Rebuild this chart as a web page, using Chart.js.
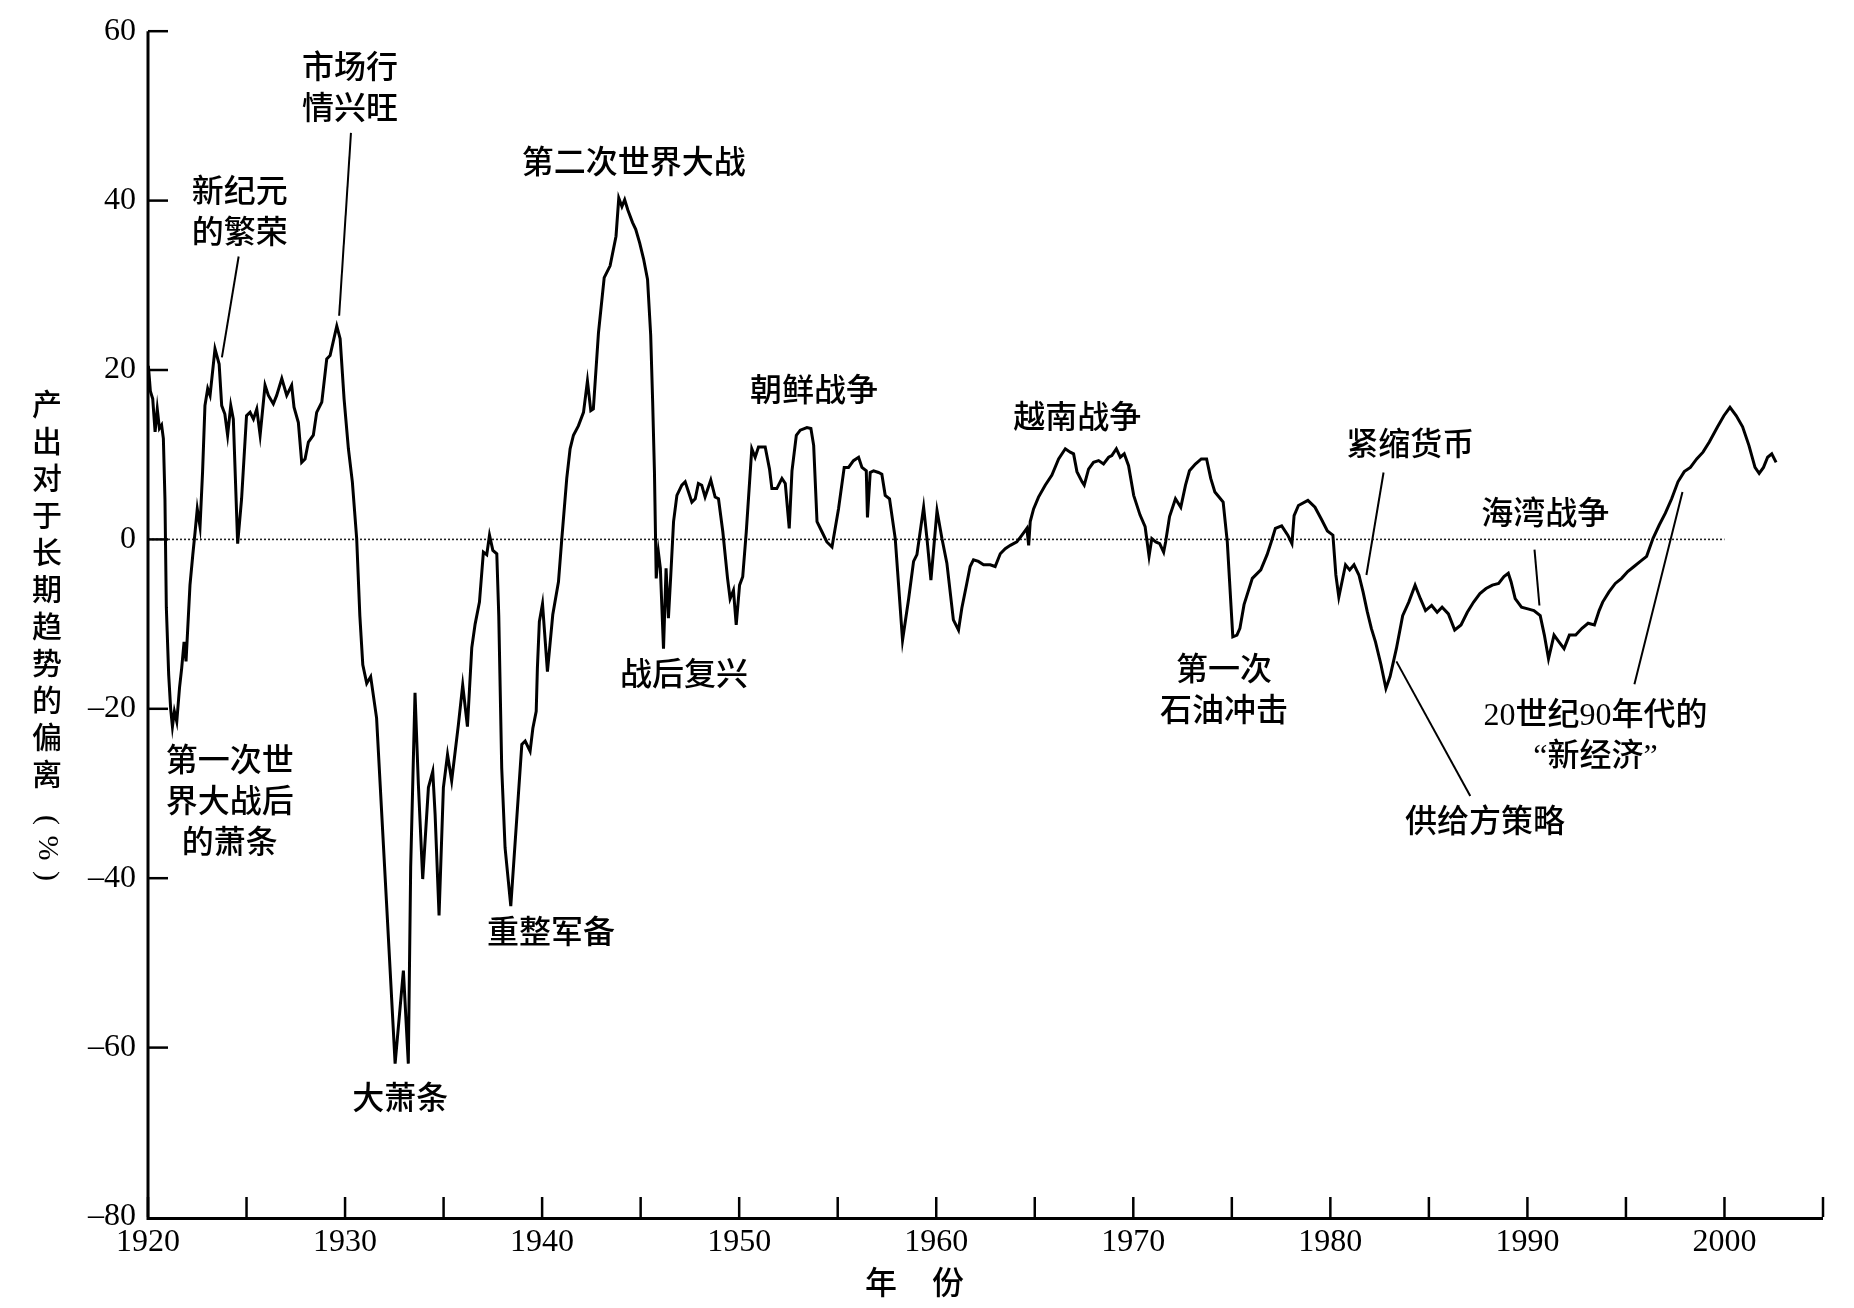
<!DOCTYPE html>
<html>
<head>
<meta charset="utf-8">
<script src="https://cdn.jsdelivr.net/npm/chart.js@4.4.1/dist/chart.umd.min.js"></script>
<style>
    html, body { margin: 0; padding: 0; background: #fff; }
    canvas { display: block; }
</style>
</head>
<body>
<canvas id="gapChart" width="1854" height="1308"></canvas>
<script>
// Years (fractional)
const years = [
    1920.02, 1920.12, 1920.24, 1920.36, 1920.47, 1920.58, 1920.69, 1920.78, 1920.86, 1920.93,
    1921.05, 1921.15, 1921.24, 1921.34, 1921.46, 1921.6, 1921.71, 1921.83, 1921.93, 1922.05,
    1922.13, 1922.27, 1922.39, 1922.5, 1922.64, 1922.77, 1922.89, 1923.03, 1923.15, 1923.4,
    1923.61, 1923.74, 1923.9, 1924.04, 1924.2, 1924.33, 1924.55, 1924.75, 1925.0, 1925.18,
    1925.35, 1925.52, 1925.69, 1925.94, 1926.11, 1926.36, 1926.53, 1926.79, 1927.04, 1927.29,
    1927.41, 1927.63, 1927.8, 1927.97, 1928.14, 1928.39, 1928.56, 1928.82, 1929.07, 1929.24,
    1929.58, 1929.75, 1929.95, 1930.17, 1930.37, 1930.59, 1930.75, 1930.9, 1931.1, 1931.3,
    1931.6, 1932.1, 1932.54, 1932.96, 1933.21, 1933.33, 1933.55, 1933.72, 1933.94, 1934.23,
    1934.45, 1934.57, 1934.77, 1934.99, 1935.2, 1935.41, 1935.75, 1935.97, 1936.21, 1936.43,
    1936.6, 1936.82, 1937.02, 1937.19, 1937.33, 1937.5, 1937.7, 1937.8, 1937.95, 1938.12,
    1938.41, 1938.97, 1939.14, 1939.39, 1939.53, 1939.7, 1939.76, 1939.86, 1940.02, 1940.27,
    1940.54, 1940.83, 1941.0, 1941.25, 1941.42, 1941.59, 1941.84, 1942.1, 1942.3, 1942.47,
    1942.6, 1942.86, 1943.15, 1943.45, 1943.75, 1943.89, 1944.05, 1944.19, 1944.35, 1944.59,
    1944.75, 1944.95, 1945.15, 1945.35, 1945.51, 1945.61, 1945.7, 1945.79, 1945.9, 1946.0,
    1946.16, 1946.29, 1946.41, 1946.53, 1946.67, 1946.84, 1947.09, 1947.26, 1947.43, 1947.6,
    1947.77, 1947.93, 1948.1, 1948.27, 1948.56, 1948.78, 1948.95, 1949.17, 1949.41, 1949.54,
    1949.71, 1949.85, 1950.02, 1950.18, 1950.36, 1950.64, 1950.81, 1950.98, 1951.32, 1951.54,
    1951.66, 1951.91, 1952.17, 1952.34, 1952.54, 1952.68, 1952.9, 1953.1, 1953.44, 1953.64,
    1953.78, 1953.95, 1954.2, 1954.45, 1954.71, 1955.04, 1955.33, 1955.55, 1955.8, 1956.06,
    1956.23, 1956.45, 1956.51, 1956.65, 1956.82, 1957.07, 1957.24, 1957.41, 1957.63, 1957.92,
    1958.29, 1958.6, 1958.85, 1959.02, 1959.36, 1959.53, 1959.73, 1960.04, 1960.29, 1960.54,
    1960.87, 1961.13, 1961.3, 1961.55, 1961.72, 1961.89, 1962.14, 1962.4, 1962.74, 1962.99,
    1963.25, 1963.5, 1963.76, 1964.09, 1964.35, 1964.6, 1964.69, 1964.77, 1964.94, 1965.19,
    1965.53, 1965.87, 1966.21, 1966.55, 1966.8, 1966.97, 1967.14, 1967.4, 1967.51, 1967.73,
    1967.98, 1968.24, 1968.49, 1968.75, 1968.91, 1969.14, 1969.34, 1969.54, 1969.76, 1970.02,
    1970.34, 1970.6, 1970.8, 1970.94, 1971.14, 1971.34, 1971.54, 1971.64, 1971.84, 1972.14,
    1972.41, 1972.65, 1972.85, 1973.15, 1973.45, 1973.72, 1973.93, 1974.14, 1974.35, 1974.56,
    1974.77, 1975.05, 1975.26, 1975.41, 1975.62, 1976.04, 1976.47, 1976.79, 1977.0, 1977.21,
    1977.53, 1977.84, 1978.05, 1978.16, 1978.38, 1978.86, 1979.22, 1979.54, 1979.85, 1980.13,
    1980.28, 1980.43, 1980.77, 1980.98, 1981.2, 1981.45, 1981.66, 1981.87, 1982.08, 1982.29,
    1982.57, 1982.82, 1983.03, 1983.35, 1983.67, 1983.98, 1984.3, 1984.57, 1984.83, 1985.14,
    1985.42, 1985.67, 1985.99, 1986.31, 1986.63, 1986.95, 1987.27, 1987.59, 1987.9, 1988.22,
    1988.54, 1988.81, 1989.03, 1989.17, 1989.38, 1989.7, 1990.02, 1990.33, 1990.65, 1990.86,
    1991.07, 1991.35, 1991.6, 1991.86, 1992.13, 1992.45, 1992.77, 1993.08, 1993.4, 1993.64,
    1993.82, 1994.14, 1994.46, 1994.78, 1995.09, 1995.41, 1995.73, 1996.05, 1996.37, 1996.69,
    1997.0, 1997.32, 1997.64, 1997.96, 1998.27, 1998.59, 1998.91, 1999.23, 1999.65, 1999.97,
    2000.28, 2000.6, 2000.92, 2001.24, 2001.55, 2001.76, 2001.98, 2002.19, 2002.4, 2002.62
];

// Deviation of output from long-run trend (%)
const gapValues = [
    20.5, 17.5, 16.6, 12.7, 15.4, 13.1, 13.5, 11.9, 4.8, -8.0,
    -16.0, -20.0, -22.1, -20.3, -21.5, -17.5, -15.2, -12.1, -14.4, -9.0,
    -5.4, -1.9, 0.9, 3.6, 1.5, 8.0, 15.8, 17.8, 17.0, 22.5,
    20.7, 15.8, 14.8, 12.3, 15.8, 14.2, -0.5, 4.8, 14.6, 15.0,
    14.2, 15.4, 12.3, 18.2, 17.0, 16.0, 17.0, 19.0, 17.0, 18.2,
    15.6, 13.8, 9.1, 9.5, 11.5, 12.3, 15.0, 16.2, 21.3, 21.7,
    25.2, 23.7, 16.6, 10.7, 6.8, 0.1, -9.0, -14.8, -17.0, -16.2,
    -21.1, -42.7, -61.9, -50.9, -61.9, -38.7, -18.1, -28.9, -40.1, -29.3,
    -27.4, -32.5, -44.4, -29.3, -25.4, -28.5, -21.9, -17.2, -22.1, -12.8,
    -10.0, -7.4, -1.5, -1.8, 0.5, -1.3, -1.7, -9.0, -27.0, -36.4,
    -43.3, -24.2, -23.8, -25.0, -22.3, -20.3, -15.2, -9.7, -7.6, -15.6,
    -8.9, -5.0, 0.1, 7.2, 10.7, 12.3, 13.4, 15.0, 18.7, 15.2,
    15.4, 24.4, 30.9, 32.3, 35.8, 40.3, 39.3, 40.1, 38.9, 37.4,
    36.6, 35.0, 33.1, 30.7, 24.1, 16.2, 8.0, -4.6, -1.5, -3.4,
    -12.9, -3.4, -9.3, -4.2, 2.1, 5.2, 6.4, 6.8, 5.6, 4.4,
    4.8, 6.6, 6.4, 5.0, 7.0, 5.0, 4.8, 0.9, -4.6, -7.0,
    -6.0, -10.1, -5.4, -4.4, 0.9, 10.7, 9.7, 10.9, 10.9, 8.3,
    6.0, 6.0, 7.2, 6.6, 1.3, 8.1, 12.3, 12.9, 13.2, 13.1,
    11.1, 2.1, 0.9, -0.3, -0.9, 3.6, 8.5, 8.5, 9.3, 9.7,
    8.5, 8.1, 2.6, 7.9, 8.1, 7.9, 7.7, 5.2, 4.8, 0.1,
    -11.9, -7.0, -2.6, -1.8, 3.8, 0.1, -4.8, 3.4, 0.1, -2.8,
    -9.5, -10.7, -8.1, -5.2, -3.2, -2.4, -2.6, -3.0, -3.0, -3.2,
    -1.7, -1.1, -0.7, -0.3, 0.5, 1.3, -0.7, 2.1, 3.6, 5.0,
    6.4, 7.6, 9.5, 10.7, 10.3, 10.1, 8.0, 6.8, 6.4, 8.3,
    9.1, 9.3, 8.9, 9.7, 9.9, 10.7, 9.7, 10.1, 8.7, 5.2,
    2.9, 1.5, -2.0, 0.1, -0.3, -0.5, -1.5, -0.3, 2.7, 4.8,
    3.8, 6.4, 8.1, 8.9, 9.5, 9.5, 7.2, 5.6, 5.0, 4.4,
    -0.3, -11.5, -11.3, -10.5, -7.7, -4.6, -3.6, -1.8, -0.3, 1.3,
    1.6, 0.5, -0.5, 2.8, 4.0, 4.6, 3.8, 2.4, 1.0, 0.5,
    -4.2, -6.8, -3.0, -3.6, -3.0, -4.2, -6.2, -8.5, -10.5, -12.1,
    -14.8, -17.6, -16.2, -12.9, -9.0, -7.4, -5.4, -7.0, -8.4, -7.8,
    -8.6, -8.0, -8.8, -10.7, -10.1, -8.6, -7.4, -6.4, -5.8, -5.4,
    -5.2, -4.4, -4.0, -5.0, -7.0, -8.0, -8.2, -8.4, -9.0, -11.3,
    -14.1, -11.3, -12.1, -12.9, -11.3, -11.3, -10.5, -9.9, -10.1, -8.4,
    -7.4, -6.2, -5.2, -4.6, -3.8, -3.2, -2.6, -2.0, 0.1, 1.7,
    3.1, 4.8, 6.8, 8.0, 8.5, 9.5, 10.3, 11.5, 13.3, 14.6,
    15.6, 14.6, 13.3, 11.1, 8.5, 7.8, 8.5, 9.7, 10.1, 9.1
];

// Axis ranges and ticks
const yearMin = 1920;
const yearMax = 2005;
const yearStep = 5;
const labelEvery = 10;
const devMin = -80;
const devMax = 60;
const devStep = 20;
const zeroLineEnd = 2000;

const xTitle = ['年', '份'];
const yTitleChars = ['产', '出', '对', '于', '长', '期', '趋', '势', '的', '偏', '离'];
const yTitleUnit = ['(', '%', ')'];

// Event labels: text lines and anchor (year, value)
const eventLabels = [
    { lines: ['第一次世', '界大战后', '的萧条'], year: 1924.15, value: -26.4 },
    { lines: ['新纪元', '的繁荣'], year: 1924.65, value: 40.8 },
    { lines: ['市场行', '情兴旺'], year: 1930.25, value: 55.5 },
    { lines: ['大萧条'], year: 1932.8, value: -66.3 },
    { lines: ['重整军备'], year: 1940.45, value: -46.7 },
    { lines: ['第二次世界大战'], year: 1944.65, value: 44.3 },
    { lines: ['战后复兴'], year: 1947.2, value: -16.2 },
    { lines: ['朝鲜战争'], year: 1953.8, value: 17.3 },
    { lines: ['越南战争'], year: 1967.15, value: 14.2 },
    { lines: ['第一次', '石油冲击'], year: 1974.6, value: -15.6 },
    { lines: ['紧缩货币'], year: 1984.05, value: 10.9 },
    { lines: ['海湾战争'], year: 1990.9, value: 2.8 },
    { lines: ['供给方策略'], year: 1987.85, value: -33.5 },
    { lines: ['20世纪90年代的', '“新经济”'], year: 1993.45, value: -20.9 }
];

// Leader lines from label to curve: [year1, value1, year2, value2]
const leaderLines = [
    [1924.6, 33.4, 1923.75, 21.5],
    [1930.3, 48.0, 1929.7, 26.4],
    [1982.7, 7.9, 1981.83, -4.2],
    [1990.36, -1.2, 1990.61, -7.8],
    [1983.35, -14.4, 1987.1, -30.3],
    [1995.43, -17.1, 1997.87, 5.6]
];

const serif = '"Liberation Serif", "Times New Roman", serif';
const cjk = '"Liberation Serif", "Noto Sans CJK SC", sans-serif';

const overlayPlugin = {
    id: 'overlay',
    beforeDatasetsDraw(chart) {
        const { ctx, scales: { x, y } } = chart;
        const y0 = y.getPixelForValue(0);
        ctx.save();
        ctx.strokeStyle = '#222';
        ctx.lineWidth = 1.6;
        ctx.setLineDash([2, 2]);
        ctx.beginPath();
        ctx.moveTo(x.getPixelForValue(yearMin), y0);
        ctx.lineTo(x.getPixelForValue(zeroLineEnd), y0);
        ctx.stroke();
        ctx.restore();
    },
    afterDraw(chart) {
        const { ctx, chartArea, scales: { x, y } } = chart;
        const left = chartArea.left, bottom = chartArea.bottom;
        ctx.save();
        ctx.strokeStyle = '#000';
        ctx.lineCap = 'butt';

        // axes
        ctx.lineWidth = 3;
        ctx.beginPath();
        ctx.moveTo(left, y.getPixelForValue(devMax));
        ctx.lineTo(left, bottom + 1.5);
        ctx.lineTo(x.getPixelForValue(yearMax), bottom + 1.5);
        ctx.stroke();

        // inward tick marks
        ctx.lineWidth = 2.5;
        x.ticks.forEach(t => {
            const px = x.getPixelForValue(t.value);
            ctx.beginPath();
            ctx.moveTo(px, bottom);
            ctx.lineTo(px, bottom - 20);
            ctx.stroke();
        });
        y.ticks.forEach(t => {
            if (t.value === devMin) return;
            const py = y.getPixelForValue(t.value);
            ctx.beginPath();
            ctx.moveTo(left, py);
            ctx.lineTo(left + 20, py);
            ctx.stroke();
        });

        // leader lines
        ctx.lineWidth = 2;
        leaderLines.forEach(([x1, v1, x2, v2]) => {
            ctx.beginPath();
            ctx.moveTo(x.getPixelForValue(x1), y.getPixelForValue(v1));
            ctx.lineTo(x.getPixelForValue(x2), y.getPixelForValue(v2));
            ctx.stroke();
        });

        // event labels
        ctx.fillStyle = '#000';
        ctx.font = '500 32px ' + cjk;
        ctx.textAlign = 'center';
        ctx.textBaseline = 'middle';
        eventLabels.forEach(lbl => {
            const cx = x.getPixelForValue(lbl.year);
            const cy = y.getPixelForValue(lbl.value);
            lbl.lines.forEach((line, i) => ctx.fillText(line, cx, cy + i * 41));
        });

        // x axis title
        ctx.fillText(xTitle[0], 881, 1286);
        ctx.fillText(xTitle[1], 948, 1286);

        // y axis title, vertical
        ctx.font = '500 30px ' + cjk;
        yTitleChars.forEach((ch, i) => ctx.fillText(ch, 47, 407 + i * 37));
        ctx.font = '30px ' + serif;
        yTitleUnit.forEach((ch, i) => {
            ctx.save();
            ctx.translate(47, 820 + i * 28);
            ctx.rotate(Math.PI / 2);
            ctx.fillText(ch, 0, 0);
            ctx.restore();
        });
        ctx.restore();
    }
};

const points = years.map((yr, i) => ({ x: yr, y: gapValues[i] }));

new Chart(document.getElementById('gapChart').getContext('2d'), {
    type: 'line',
    data: {
        datasets: [{
            data: points,
            borderColor: '#000',
            borderWidth: 3,
            pointRadius: 0,
            tension: 0,
            fill: false,
        }],
    },
    options: {
        responsive: false,
        animation: false,
        devicePixelRatio: 1,
        layout: { padding: { top: 28, right: 31, bottom: 0, left: 0 } },
        plugins: { legend: { display: false }, tooltip: { enabled: false } },
        scales: {
            x: {
                type: 'linear',
                min: yearMin,
                max: yearMax,
                grid: { display: false, drawTicks: false },
                border: { display: false },
                ticks: {
                    stepSize: yearStep,
                    autoSkip: false,
                    maxRotation: 0,
                    padding: 6,
                    color: '#000',
                    font: { family: serif, size: 32 },
                    callback: v => (v % labelEvery === 0 ? String(v) : ''),
                },
                afterFit: s => { s.height = 91; },
            },
            y: {
                min: devMin,
                max: devMax,
                grid: { display: false, drawTicks: false },
                border: { display: false },
                ticks: {
                    stepSize: devStep,
                    padding: 12,
                    color: '#000',
                    font: { family: serif, size: 32 },
                    callback: v => String(v).replace('-', '–'),
                },
                afterFit: s => { s.width = 148; },
            },
        },
    },
    plugins: [overlayPlugin],
});
</script>
</body>
</html>
